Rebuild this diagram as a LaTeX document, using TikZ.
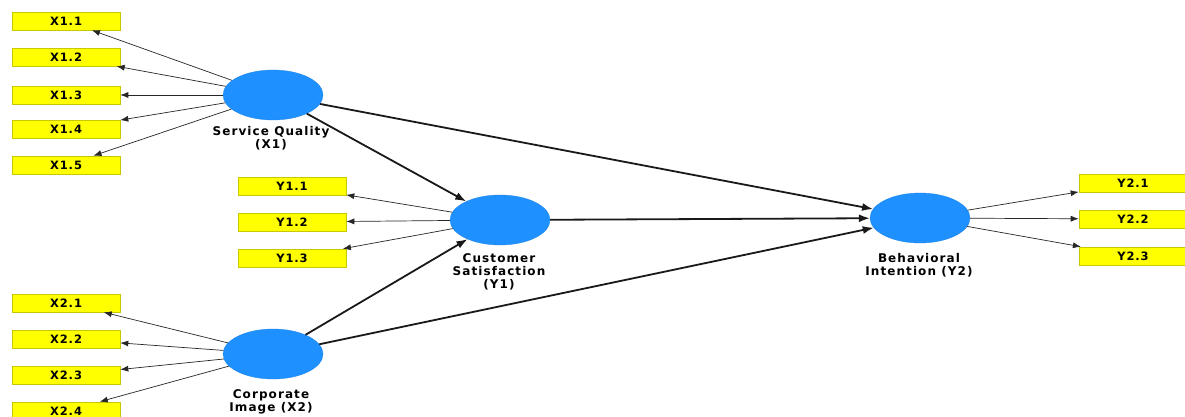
\documentclass[tikz,border=0pt]{standalone}
\usepackage{fontspec}
\setmainfont{DejaVu Sans}
\usetikzlibrary{arrows.meta,shapes.geometric}
\definecolor{lvblue}{RGB}{30,144,255}
\definecolor{mvyellow}{RGB}{255,255,0}
\definecolor{mvedge}{RGB}{200,200,0}
\tikzset{
  latent/.style={ellipse,fill=lvblue,draw=lvblue!90!black,line width=0.3pt,minimum width=100pt,minimum height=50pt,inner sep=0pt},
  indicator/.style={rectangle,fill=mvyellow,draw=mvedge,line width=0.6pt,minimum width=108pt,minimum height=18pt,inner sep=0pt,font=\fontsize{11.5}{12}\selectfont\bfseries\addfontfeature{LetterSpace=8}},
  lvlabel/.style={align=center,font=\fontsize{12}{13}\selectfont\bfseries\addfontfeature{LetterSpace=9},inner sep=0pt},
  load/.style={-{Latex[length=8pt,width=6pt]},line width=0.7pt,black!85},
  path/.style={-{Latex[length=11pt,width=8pt]},line width=1.8pt,black!90}
}
\begin{document}
\begin{tikzpicture}[x=1pt,y=-1pt]
 \useasboundingbox[fill=white] (0,0) rectangle (1185,417);
 % latent variables
 \node[latent] (sq) at (273,95) {};
 \node[latent] (cs) at (500,220) {};
 \node[latent] (ci) at (273,354) {};
 \node[latent] (bi) at (920,218) {};
 \node[lvlabel,anchor=north] at (271,126) {Service Quality\\(X1)};
 \node[lvlabel,anchor=north] at (499,253) {Customer\\Satisfaction\\(Y1)};
 \node[lvlabel,anchor=north] at (271,389) {Corporate\\Image (X2)};
 \node[lvlabel,anchor=north] at (919,253) {Behavioral\\Intention (Y2)};
 % indicators
 \node[indicator] (x11) at (66,21) {X1.1};
 \node[indicator] (x12) at (66,57) {X1.2};
 \node[indicator] (x13) at (66,95) {X1.3};
 \node[indicator] (x14) at (66,129) {X1.4};
 \node[indicator] (x15) at (66,165) {X1.5};
 \node[indicator] (y11) at (292,186) {Y1.1};
 \node[indicator] (y12) at (292,222) {Y1.2};
 \node[indicator] (y13) at (292,258) {Y1.3};
 \node[indicator] (x21) at (66,303) {X2.1};
 \node[indicator] (x22) at (66,339) {X2.2};
 \node[indicator] (x23) at (66,375) {X2.3};
 \node[indicator] (x24) at (66,411) {X2.4};
 \node[indicator] (y21) at (1133,183) {Y2.1};
 \node[indicator] (y22) at (1133,219) {Y2.2};
 \node[indicator] (y23) at (1133,256) {Y2.3};
 % outer loadings
 \draw[load] (sq) -- (x11);
 \draw[load] (sq) -- (x12);
 \draw[load] (sq) -- (x13);
 \draw[load] (sq) -- (x14);
 \draw[load] (sq) -- (x15);
 \draw[load] (cs) -- (y11);
 \draw[load] (cs) -- (y12);
 \draw[load] (cs) -- (y13);
 \draw[load] (ci) -- (x21);
 \draw[load] (ci) -- (x22);
 \draw[load] (ci) -- (x23);
 \draw[load] (ci) -- (x24);
 \draw[load] (bi) -- (y21);
 \draw[load] (bi) -- (y22);
 \draw[load] (bi) -- (y23);
 % inner model
 \draw[path] (sq) -- (cs);
 \draw[path] (sq) -- (bi);
 \draw[path] (ci) -- (cs);
 \draw[path] (ci) -- (bi);
 \draw[path] (cs) -- (bi);
\end{tikzpicture}
\end{document}
